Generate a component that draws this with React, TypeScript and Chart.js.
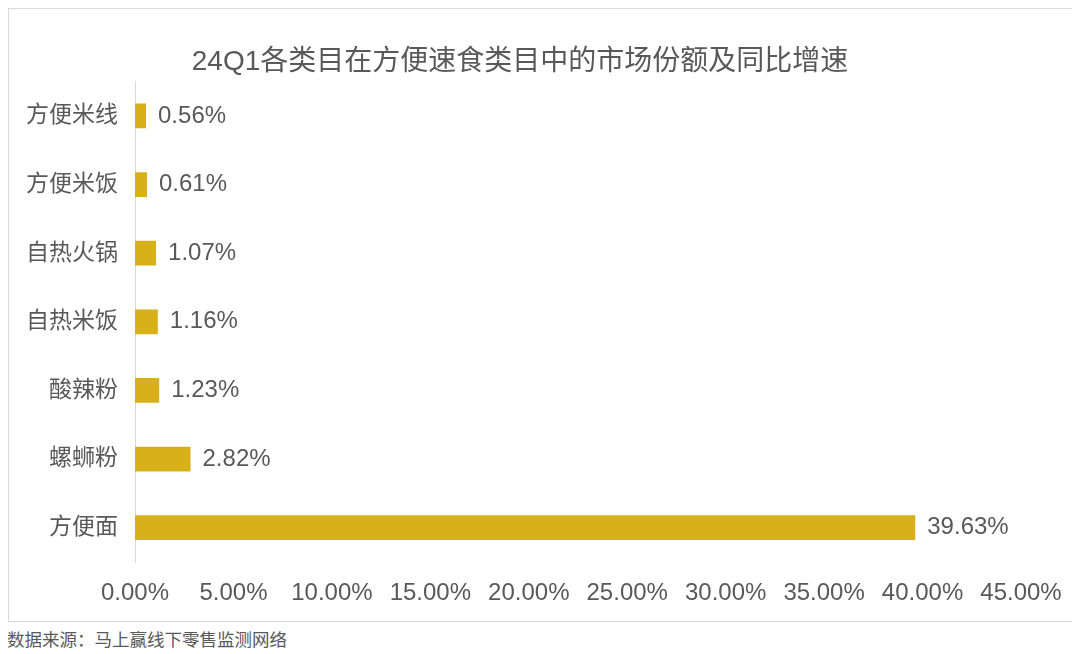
import { useEffect, useRef } from 'react';
import { Chart, registerables } from 'chart.js';

Chart.register(...registerables);

const categories = ['方便米线', '方便米饭', '自热火锅', '自热米饭', '酸辣粉', '螺蛳粉', '方便面'];
const shareValues = [0.56, 0.61, 1.07, 1.16, 1.23, 2.82, 39.63];
const titleText = '24Q1各类目在方便速食类目中的市场份额及同比增速';
const sourceText = '数据来源：马上赢线下零售监测网络';

const FONT = "'Liberation Sans', 'Noto Sans CJK SC', sans-serif";
const TEXT = '#595959';
const BAR = '#D8B01A';

// draws the value text to the right of each bar
const valueLabels = {
  id: 'valueLabels',
  afterDatasetsDraw(chart: any) {
    const { ctx } = chart;
    const meta = chart.getDatasetMeta(0);
    ctx.save();
    ctx.font = `24px ${FONT}`;
    ctx.fillStyle = TEXT;
    ctx.textAlign = 'left';
    ctx.textBaseline = 'middle';
    meta.data.forEach((bar: any, i: number) => {
      const v = chart.data.datasets[0].data[i] as number;
      ctx.fillText(v.toFixed(2) + '%', bar.x + 12, bar.y);
    });
    ctx.restore();
  },
};

export default function App() {
  const chartRef = useRef<HTMLCanvasElement>(null);
  const chartInstance = useRef<Chart | null>(null);

  useEffect(() => {
    if (!chartRef.current) return;
    if (chartInstance.current) chartInstance.current.destroy();

    chartInstance.current = new Chart(chartRef.current, {
      type: 'bar',
      data: {
        labels: categories,
        datasets: [
          {
            data: shareValues,
            backgroundColor: BAR,
            barPercentage: 0.36,
            categoryPercentage: 1,
          },
        ],
      },
      plugins: [valueLabels],
      options: {
        indexAxis: 'y',
        animation: false,
        responsive: true,
        maintainAspectRatio: false,
        layout: {
          padding: { left: 10, right: 52, top: 0, bottom: 0 },
        },
        plugins: {
          legend: { display: false },
          tooltip: { enabled: false },
          title: {
            display: true,
            text: titleText,
            color: TEXT,
            font: { family: FONT, size: 28, weight: 'normal' },
            padding: { top: 36, bottom: 3 },
          },
        },
        scales: {
          x: {
            min: 0,
            max: 45,
            grid: { display: false, drawTicks: false },
            border: { display: false },
            afterFit: (scale: any) => {
              scale.height = 59;
              scale.paddingLeft = 0;
              scale.paddingRight = 0;
            },
            ticks: {
              stepSize: 5,
              color: TEXT,
              padding: 17,
              maxRotation: 0,
              font: { family: FONT, size: 24 },
              callback: (v: any) => Number(v).toFixed(2) + '%',
            },
          },
          y: {
            grid: { display: false, drawTicks: false },
            border: { display: true, color: '#d9d9d9', width: 1 },
            afterFit: (scale: any) => {
              scale.width = 116;
            },
            ticks: {
              color: TEXT,
              padding: 17,
              font: { family: FONT, size: 23 },
            },
          },
        },
      },
    });

    return () => {
      if (chartInstance.current) {
        chartInstance.current.destroy();
        chartInstance.current = null;
      }
    };
  }, []);

  return (
    <div style={{ fontFamily: FONT }}>
      <div style={{ width: 1064, height: 612, border: '1px solid #d9d9d9', position: 'relative' }}>
        <canvas ref={chartRef} />
      </div>
      <div style={{ fontSize: 17.5, color: TEXT, marginTop: 4, marginLeft: -1 }}>{sourceText}</div>
    </div>
  );
}
